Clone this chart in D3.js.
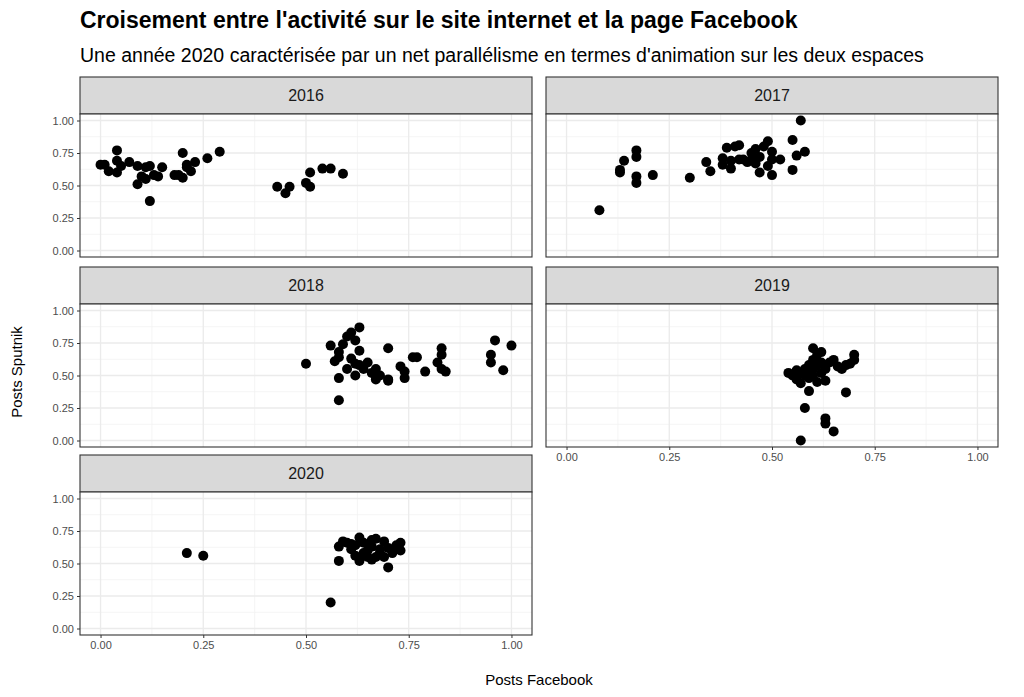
<!DOCTYPE html>
<html><head><meta charset="utf-8">
<script src="https://cdn.jsdelivr.net/npm/d3@7"></script>
<style>body{margin:0;background:#fff}</style>
</head><body><div id="chart"></div>
<script>
const years = ['2016', '2017', '2018', '2019', '2020'];
const xTicks = [0, 0.25, 0.5, 0.75, 1];
const yTicks = [0, 0.25, 0.5, 0.75, 1];
const p2016 = [[0.00,0.66],[0.01,0.66],[0.02,0.61],[0.04,0.77],[0.04,0.69],[0.04,0.60],[0.05,0.65],[0.07,0.68],[0.09,0.65],[0.09,0.51],[0.10,0.57],[0.11,0.64],[0.11,0.55],[0.12,0.38],[0.12,0.65],[0.13,0.58],[0.14,0.57],[0.15,0.64],[0.18,0.58],[0.19,0.58],[0.20,0.75],[0.20,0.56],[0.21,0.64],[0.21,0.66],[0.22,0.61],[0.23,0.68],[0.26,0.71],[0.29,0.76],[0.43,0.49],[0.45,0.44],[0.46,0.49],[0.50,0.52],[0.51,0.49],[0.51,0.60],[0.54,0.63],[0.56,0.63],[0.59,0.59]];
const p2017 = [[0.08,0.31],[0.13,0.62],[0.13,0.60],[0.14,0.69],[0.17,0.77],[0.17,0.72],[0.17,0.57],[0.17,0.52],[0.21,0.58],[0.30,0.56],[0.34,0.68],[0.35,0.61],[0.38,0.71],[0.38,0.66],[0.39,0.79],[0.40,0.69],[0.40,0.63],[0.41,0.80],[0.42,0.70],[0.42,0.81],[0.43,0.70],[0.44,0.68],[0.45,0.70],[0.45,0.75],[0.46,0.67],[0.46,0.78],[0.47,0.60],[0.47,0.72],[0.48,0.80],[0.49,0.65],[0.49,0.84],[0.50,0.76],[0.50,0.58],[0.50,0.70],[0.52,0.70],[0.55,0.85],[0.55,0.62],[0.56,0.73],[0.57,1.00],[0.58,0.76]];
const p2018 = [[0.50,0.59],[0.56,0.73],[0.57,0.61],[0.58,0.64],[0.58,0.68],[0.59,0.74],[0.58,0.48],[0.58,0.31],[0.60,0.80],[0.60,0.55],[0.61,0.83],[0.61,0.63],[0.62,0.77],[0.62,0.50],[0.62,0.59],[0.63,0.69],[0.63,0.87],[0.63,0.58],[0.64,0.55],[0.65,0.60],[0.66,0.52],[0.67,0.55],[0.67,0.47],[0.68,0.50],[0.70,0.47],[0.70,0.71],[0.70,0.46],[0.73,0.57],[0.74,0.53],[0.74,0.48],[0.76,0.64],[0.77,0.64],[0.79,0.53],[0.82,0.60],[0.83,0.71],[0.83,0.66],[0.83,0.55],[0.84,0.53],[0.95,0.66],[0.95,0.60],[0.96,0.77],[0.98,0.54],[1.00,0.73]];
const p2019 = [[0.54,0.52],[0.55,0.50],[0.56,0.47],[0.56,0.54],[0.57,0.44],[0.57,0.52],[0.58,0.50],[0.58,0.55],[0.59,0.48],[0.59,0.53],[0.59,0.58],[0.60,0.50],[0.60,0.55],[0.60,0.62],[0.60,0.71],[0.61,0.66],[0.61,0.45],[0.61,0.58],[0.62,0.68],[0.62,0.52],[0.62,0.60],[0.63,0.55],[0.63,0.46],[0.64,0.60],[0.65,0.62],[0.66,0.57],[0.67,0.55],[0.68,0.58],[0.70,0.62],[0.70,0.66],[0.69,0.59],[0.59,0.38],[0.68,0.37],[0.58,0.25],[0.63,0.17],[0.63,0.13],[0.65,0.07],[0.57,0.00]];
const p2020 = [[0.21,0.58],[0.25,0.56],[0.56,0.20],[0.58,0.63],[0.58,0.52],[0.59,0.67],[0.60,0.66],[0.61,0.61],[0.62,0.56],[0.62,0.64],[0.63,0.70],[0.63,0.52],[0.64,0.58],[0.64,0.66],[0.65,0.60],[0.65,0.55],[0.66,0.68],[0.66,0.63],[0.67,0.55],[0.67,0.69],[0.68,0.61],[0.68,0.58],[0.69,0.67],[0.69,0.55],[0.70,0.62],[0.70,0.47],[0.71,0.58],[0.72,0.64],[0.73,0.60],[0.73,0.66],[0.61,0.65],[0.66,0.53]];
const series = [p2016, p2017, p2018, p2019, p2020];

const W = 1024, H = 697, font = 'Liberation Sans, Arial, sans-serif';
const svg = d3.select('#chart').append('svg').attr('width', W).attr('height', H);
svg.append('text').attr('x', 80).attr('y', 28).attr('font-family', font).attr('font-size', 23).attr('font-weight', 700)
  .text("Croisement entre l'activité sur le site internet et la page Facebook");
svg.append('text').attr('x', 80).attr('y', 62).attr('font-family', font).attr('font-size', 19.5)
  .text("Une année 2020 caractérisée par un net parallélisme en termes d'animation sur les deux espaces");

const colX = [80, 546], pw = 452;
const rowY = [77, 267, 455], stripH = 37, ph = 143;
const x0 = d3.scaleLinear().domain([-0.05, 1.05]).range([0, pw]);
const y0 = d3.scaleLinear().domain([-0.05, 1.05]).range([ph, 0]);
const minor = [0.125, 0.375, 0.625, 0.875];

years.forEach((yr, i) => {
  const col = i % 2, row = Math.floor(i / 2);
  const px = colX[col], py = rowY[row] + stripH;
  svg.append('rect').attr('x', px).attr('y', rowY[row]).attr('width', pw).attr('height', stripH)
    .attr('fill', '#d9d9d9').attr('stroke', '#333').attr('stroke-width', 1.1);
  svg.append('text').attr('x', px + pw / 2).attr('y', rowY[row] + stripH / 2).attr('dy', '0.35em')
    .attr('text-anchor', 'middle').attr('font-family', font).attr('font-size', 16).attr('fill', '#1a1a1a').text(yr);
  const g = svg.append('g').attr('transform', `translate(${px},${py})`);
  g.append('rect').attr('width', pw).attr('height', ph).attr('fill', '#fff');
  minor.forEach(v => {
    g.append('line').attr('x1', x0(v)).attr('x2', x0(v)).attr('y2', ph).attr('stroke', '#f3f3f3').attr('stroke-width', 0.8);
    g.append('line').attr('y1', y0(v)).attr('y2', y0(v)).attr('x2', pw).attr('stroke', '#f3f3f3').attr('stroke-width', 0.8);
  });
  xTicks.forEach(v => g.append('line').attr('x1', x0(v)).attr('x2', x0(v)).attr('y2', ph).attr('stroke', '#ebebeb').attr('stroke-width', 1.3));
  yTicks.forEach(v => g.append('line').attr('y1', y0(v)).attr('y2', y0(v)).attr('x2', pw).attr('stroke', '#ebebeb').attr('stroke-width', 1.3));
  g.selectAll('circle').data(series[i]).join('circle')
    .attr('cx', d => x0(d[0])).attr('cy', d => y0(d[1])).attr('r', 5).attr('fill', '#000');
  g.append('rect').attr('width', pw).attr('height', ph).attr('fill', 'none').attr('stroke', '#333').attr('stroke-width', 1.1);
  if (col === 0) {
    const ax = g.append('g').call(d3.axisLeft(y0).tickValues(yTicks).tickFormat(d3.format('.2f')).tickSize(3));
    ax.select('.domain').remove();
    ax.selectAll('line').attr('stroke', '#333');
    ax.selectAll('text').attr('fill', '#4d4d4d').attr('font-size', 11).attr('font-family', font);
  }
  if (i >= 3) {
    const ax = g.append('g').attr('transform', `translate(0,${ph})`)
      .call(d3.axisBottom(x0).tickValues(xTicks).tickFormat(d3.format('.2f')).tickSize(3));
    ax.select('.domain').remove();
    ax.selectAll('line').attr('stroke', '#333');
    ax.selectAll('text').attr('fill', '#4d4d4d').attr('font-size', 11).attr('font-family', font);
  }
});

svg.append('text').attr('x', 539).attr('y', 685).attr('text-anchor', 'middle').attr('font-family', font).attr('font-size', 15).text('Posts Facebook');
svg.append('text').attr('transform', 'translate(22,372) rotate(-90)').attr('text-anchor', 'middle').attr('font-family', font).attr('font-size', 15).text('Posts Sputnik');
</script></body></html>
